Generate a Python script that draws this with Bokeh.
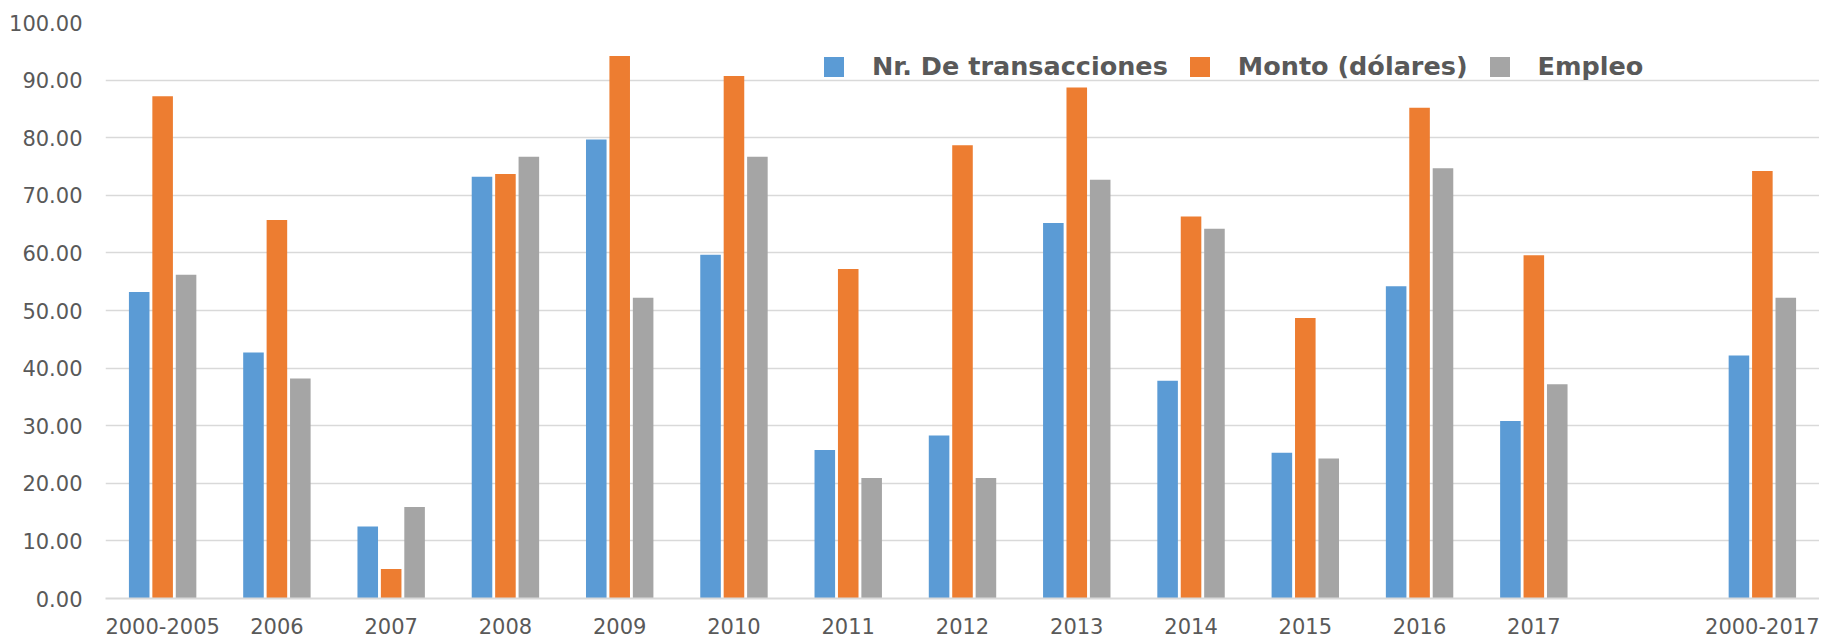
from bokeh.plotting import figure
from bokeh.models import FactorRange, ColumnDataSource, Legend, LegendItem, NumeralTickFormatter
from bokeh.transform import dodge
from bokeh.embed import file_html
from bokeh.resources import INLINE

categories = ["2000-2005", "2006", "2007", "2008", "2009", "2010", "2011",
              "2012", "2013", "2014", "2015", "2016", "2017", "2000-2017"]
transacciones = [53.2, 42.7, 12.5, 73.2, 79.7, 59.7, 25.8, 28.3, 65.2, 37.8, 25.3, 54.2, 30.8, 42.2]
monto = [87.2, 65.7, 5.1, 73.7, 94.2, 90.7, 57.2, 78.7, 88.7, 66.3, 48.7, 85.2, 59.6, 74.2]
empleo = [56.2, 38.2, 15.9, 76.7, 52.2, 76.7, 20.9, 20.9, 72.7, 64.2, 24.3, 74.7, 37.2, 52.2]
series_names = ["Nr. De transacciones", "Monto (dólares)", "Empleo"]
y_ticks = [0, 10, 20, 30, 40, 50, 60, 70, 80, 90, 100]

colors = ["#5b9bd5", "#ed7d31", "#a5a5a5"]
text_color = "#595959"
font = "DejaVu Sans"

factors = categories[:-1] + [" "] + categories[-1:]
src = ColumnDataSource(dict(cat=categories, t=transacciones, m=monto, e=empleo))

p = figure(x_range=FactorRange(*factors), y_range=(0, 100),
           width=1819, height=643, output_backend="svg", toolbar_location=None,
           min_border_left=105, min_border_right=0, min_border_top=22, min_border_bottom=45)

renderers = []
for field, off, c in zip(["t", "m", "e"], [-0.205, 0.0, 0.205], colors):
    r = p.vbar(x=dodge("cat", off, range=p.x_range), top=field, width=0.18,
               source=src, fill_color=c, line_color=None)
    renderers.append(r)

p.outline_line_color = None
p.xgrid.grid_line_color = None
p.ygrid.grid_line_color = "#d9d9d9"
p.ygrid.grid_line_width = 1.5

p.yaxis.ticker = y_ticks
p.yaxis.formatter = NumeralTickFormatter(format="0.00")
p.yaxis.axis_line_color = None
p.yaxis.major_tick_line_color = None
p.yaxis.major_tick_out = 0
p.yaxis.minor_tick_line_color = None
p.yaxis.minor_tick_out = 0
p.yaxis.major_label_standoff = 23
p.yaxis.major_label_text_font = font
p.yaxis.major_label_text_font_size = "21px"
p.yaxis.major_label_text_color = text_color

p.xaxis.axis_line_color = "#d9d9d9"
p.xaxis.axis_line_width = 2
p.xaxis.major_tick_line_color = None
p.xaxis.major_tick_out = 0
p.xaxis.major_label_standoff = 16
p.xaxis.major_label_text_font = font
p.xaxis.major_label_text_font_size = "21px"
p.xaxis.major_label_text_color = text_color

legend = Legend(items=[LegendItem(label=n, renderers=[r]) for n, r in zip(series_names, renderers)],
                orientation="horizontal", location=(716, 517),
                label_text_font=font, label_text_font_style="bold",
                label_text_font_size="25.5px", label_text_color=text_color,
                glyph_width=25, glyph_height=25, label_standoff=26, spacing=19,
                padding=0, margin=0, border_line_color=None, background_fill_alpha=0)
p.add_layout(legend)

open("out.html", "w").write(file_html(p, INLINE))
